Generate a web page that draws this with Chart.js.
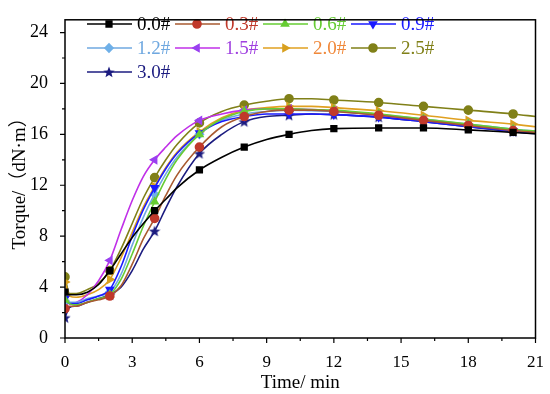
<!DOCTYPE html>
<html>
<head>
<meta charset="utf-8">
<script src="https://cdn.jsdelivr.net/npm/chart.js@4"></script>
<style>
  html, body { margin: 0; padding: 0; background: #fff; }
  #wrap { width: 550px; height: 394px; }
</style>
</head>
<body>
<div id="wrap"><canvas id="torque-chart" width="550" height="394"></canvas></div>
<script>
// time (min)
const times = [0, 0.2, 0.5, 1, 1.5, 2, 2.5, 3, 3.5, 4, 4.5, 5, 6, 7, 8, 9, 10, 11, 12, 14, 16, 18, 20, 21];
// marker times
const markerTimes = [0, 2, 4, 6, 8, 10, 12, 14, 16, 18, 20];

// torque (dN.m) per sample
const s00 = [3.6, 3.4, 3.4, 3.6, 4.2, 5.3, 6.6, 7.9, 9.0, 10.0, 10.9, 11.8, 13.2, 14.2, 15.0, 15.6, 16.0, 16.3, 16.45, 16.5, 16.5, 16.35, 16.15, 16.05];
const s03 = [2.3, 2.5, 2.5, 2.8, 3.0, 3.3, 4.1, 5.8, 7.8, 9.4, 11.2, 12.8, 15.0, 16.6, 17.4, 17.8, 17.9, 17.9, 17.8, 17.5, 17.1, 16.7, 16.3, 16.15];
const s06 = [3.0, 2.7, 2.6, 2.8, 3.1, 3.4, 4.6, 6.6, 8.8, 10.7, 12.5, 14.0, 16.0, 17.2, 17.8, 18.0, 18.0, 17.95, 17.9, 17.6, 17.2, 16.8, 16.4, 16.25];
const s09 = [3.1, 2.7, 2.7, 3.0, 3.3, 3.8, 5.6, 8.0, 10.1, 11.8, 13.3, 14.5, 16.1, 17.0, 17.4, 17.6, 17.6, 17.6, 17.55, 17.35, 17.0, 16.6, 16.25, 16.1];
const s12 = [2.9, 2.8, 2.8, 3.1, 3.3, 3.6, 5.0, 7.3, 9.5, 11.3, 12.9, 14.2, 16.0, 17.1, 17.6, 17.8, 17.9, 17.85, 17.8, 17.55, 17.2, 16.8, 16.4, 16.25];
const s15 = [2.9, 2.7, 2.8, 3.4, 4.5, 6.1, 8.5, 10.8, 12.7, 14.0, 15.0, 15.9, 17.1, 17.6, 17.9, 18.0, 18.0, 17.95, 17.85, 17.5, 17.1, 16.7, 16.3, 16.1];
const s20 = [4.4, 3.3, 3.2, 3.4, 3.8, 4.6, 6.3, 8.3, 10.3, 11.9, 13.4, 14.6, 16.2, 17.3, 17.9, 18.1, 18.2, 18.2, 18.1, 17.85, 17.5, 17.1, 16.8, 16.6];
const s25 = [4.8, 3.5, 3.5, 3.8, 4.3, 5.3, 7.0, 9.0, 11.0, 12.6, 14.0, 15.2, 16.9, 17.8, 18.3, 18.6, 18.8, 18.8, 18.7, 18.5, 18.2, 17.9, 17.6, 17.4];
const s30 = [1.6, 2.4, 2.5, 2.8, 3.1, 3.4, 4.0, 5.3, 7.0, 8.4, 10.2, 11.9, 14.5, 16.0, 17.0, 17.4, 17.5, 17.6, 17.55, 17.35, 17.0, 16.6, 16.2, 16.05];

const labels = ["0.0#", "0.3#", "0.6#", "0.9#", "1.2#", "1.5#", "2.0#", "2.5#", "3.0#"];
const series = [s00, s03, s06, s09, s12, s15, s20, s25, s30];

// filled star for 3.0#
function makeStar(color) {
  const c = document.createElement("canvas");
  c.width = 12; c.height = 12;
  const g = c.getContext("2d");
  g.fillStyle = color;
  g.beginPath();
  for (let i = 0; i < 10; i++) {
    const r = i % 2 === 0 ? 6 : 2.6;
    const a = -Math.PI / 2 + i * Math.PI / 5;
    g.lineTo(6 + r * Math.cos(a), 6.5 + r * Math.sin(a));
  }
  g.closePath();
  g.fill();
  return c;
}

const styles = [
  { line: "#000000", point: "#000000", text: "#000000", shape: "rect", rot: 0 },
  { line: "#a85a30", point: "#c0392b", text: "#c0392b", shape: "circle", rot: 0 },
  { line: "#66cc33", point: "#66cc33", text: "#66cc33", shape: "triangle", rot: 0 },
  { line: "#1a1aff", point: "#1a1aff", text: "#1a1aff", shape: "triangle", rot: 180 },
  { line: "#6fa8e0", point: "#6fb0e8", text: "#6fa8e0", shape: "rectRot", rot: 0 },
  { line: "#c030e8", point: "#9a40f0", text: "#a040e0", shape: "triangle", rot: 270 },
  { line: "#e0a020", point: "#d8a020", text: "#f0883a", shape: "triangle", rot: 90 },
  { line: "#808018", point: "#808018", text: "#808018", shape: "circle", rot: 0 },
  { line: "#1c1c80", point: "#1c1c80", text: "#1c1c80", shape: makeStar("#1c1c80"), rot: 0 }
];

Chart.defaults.font.family = '"Liberation Serif", "Times New Roman", "Noto Sans CJK SC", serif';
Chart.defaults.color = "#000";

const datasets = series.map(function(vals, i) {
  const st = styles[i];
  return {
    label: labels[i],
    data: vals.map(function(v, k) { return { x: times[k], y: v }; }),
    borderColor: st.line,
    backgroundColor: st.point,
    pointBorderColor: st.point,
    borderWidth: 1.6,
    pointStyle: st.shape,
    rotation: st.rot,
    pointRadius: function(ctx) {
      const t = times[ctx.dataIndex];
      return markerTimes.indexOf(t) >= 0 ? 4 : 0;
    },
    cubicInterpolationMode: "monotone",
    fill: false
  };
});

// frame and tick marks
const framePlugin = {
  id: "frame",
  afterDraw(chart) {
    const ctx = chart.ctx;
    const a = chart.chartArea;
    const xs = chart.scales.x, ys = chart.scales.y;
    ctx.save();
    ctx.strokeStyle = "#000";
    ctx.lineWidth = 1.5;
    ctx.strokeRect(a.left, a.top, a.right - a.left, a.bottom - a.top);
    ctx.lineWidth = 1.2;
    ctx.beginPath();
    for (let v = 0; v <= 21; v += 1.5) {
      const px = xs.getPixelForValue(v);
      const len = v % 3 === 0 ? 5 : 3;
      ctx.moveTo(px, a.bottom);
      ctx.lineTo(px, a.bottom + len);
    }
    for (let v = 0; v <= 24; v += 2) {
      const py = ys.getPixelForValue(v);
      const len = v % 4 === 0 ? 5 : 3;
      ctx.moveTo(a.left, py);
      ctx.lineTo(a.left - len, py);
    }
    ctx.stroke();
    ctx.restore();
  }
};

// legend: line - marker - line, then coloured text
const legendPlugin = {
  id: "lineLegend",
  afterDatasetsDraw(chart) {
    const ctx = chart.ctx;
    ctx.save();
    ctx.font = '19px "Liberation Serif", "Times New Roman", serif';
    ctx.textBaseline = "middle";
    labels.forEach(function(lab, i) {
      const st = styles[i];
      const col = i % 4, row = Math.floor(i / 4);
      const x0 = 87 + col * 88;
      const y0 = 24 + row * 24;
      ctx.strokeStyle = st.line;
      ctx.lineWidth = 1.6;
      ctx.beginPath();
      ctx.moveTo(x0, y0);
      ctx.lineTo(x0 + 45, y0);
      ctx.stroke();
      ctx.fillStyle = st.point;
      ctx.strokeStyle = st.point;
      Chart.helpers.drawPoint(ctx, { pointStyle: st.shape, radius: 4, rotation: st.rot, borderWidth: 1 }, x0 + 22, y0);
      ctx.fillStyle = st.text;
      ctx.fillText(lab, x0 + 50, y0 + 1);
    });
    ctx.restore();
  }
};

new Chart(document.getElementById("torque-chart"), {
  type: "line",
  data: { datasets: datasets },
  options: {
    responsive: false,
    animation: false,
    events: [],
    layout: { padding: { top: 5, right: 13, left: 0, bottom: 0 } },
    plugins: {
      legend: { display: false },
      tooltip: { enabled: false }
    },
    scales: {
      x: {
        type: "linear",
        min: 0,
        max: 21,
        afterBuildTicks: function(s) {
          s.ticks = [0, 3, 6, 9, 12, 15, 18, 21].map(function(v) { return { value: v }; });
        },
        afterFit: function(s) { s.height = 56; },
        grid: { display: false },
        border: { display: false },
        ticks: { autoSkip: false, maxRotation: 0, padding: 6, color: "#000", font: { size: 17 } },
        title: { display: true, text: "Time/ min", color: "#000", font: { size: 19 }, padding: { top: 0, bottom: 0 } }
      },
      y: {
        min: 0,
        max: 25,
        afterBuildTicks: function(s) {
          s.ticks = [0, 4, 8, 12, 16, 20, 24].map(function(v) { return { value: v }; });
        },
        afterFit: function(s) { s.width = 65; },
        grid: { display: false },
        border: { display: false },
        ticks: { autoSkip: false, padding: 9, color: "#000", font: { size: 18 } },
        title: { display: true, text: "Torque/（dN·m）", color: "#000", font: { size: 19 }, padding: { top: 9, bottom: 0 } }
      }
    }
  },
  plugins: [framePlugin, legendPlugin]
});
</script>
</body>
</html>
